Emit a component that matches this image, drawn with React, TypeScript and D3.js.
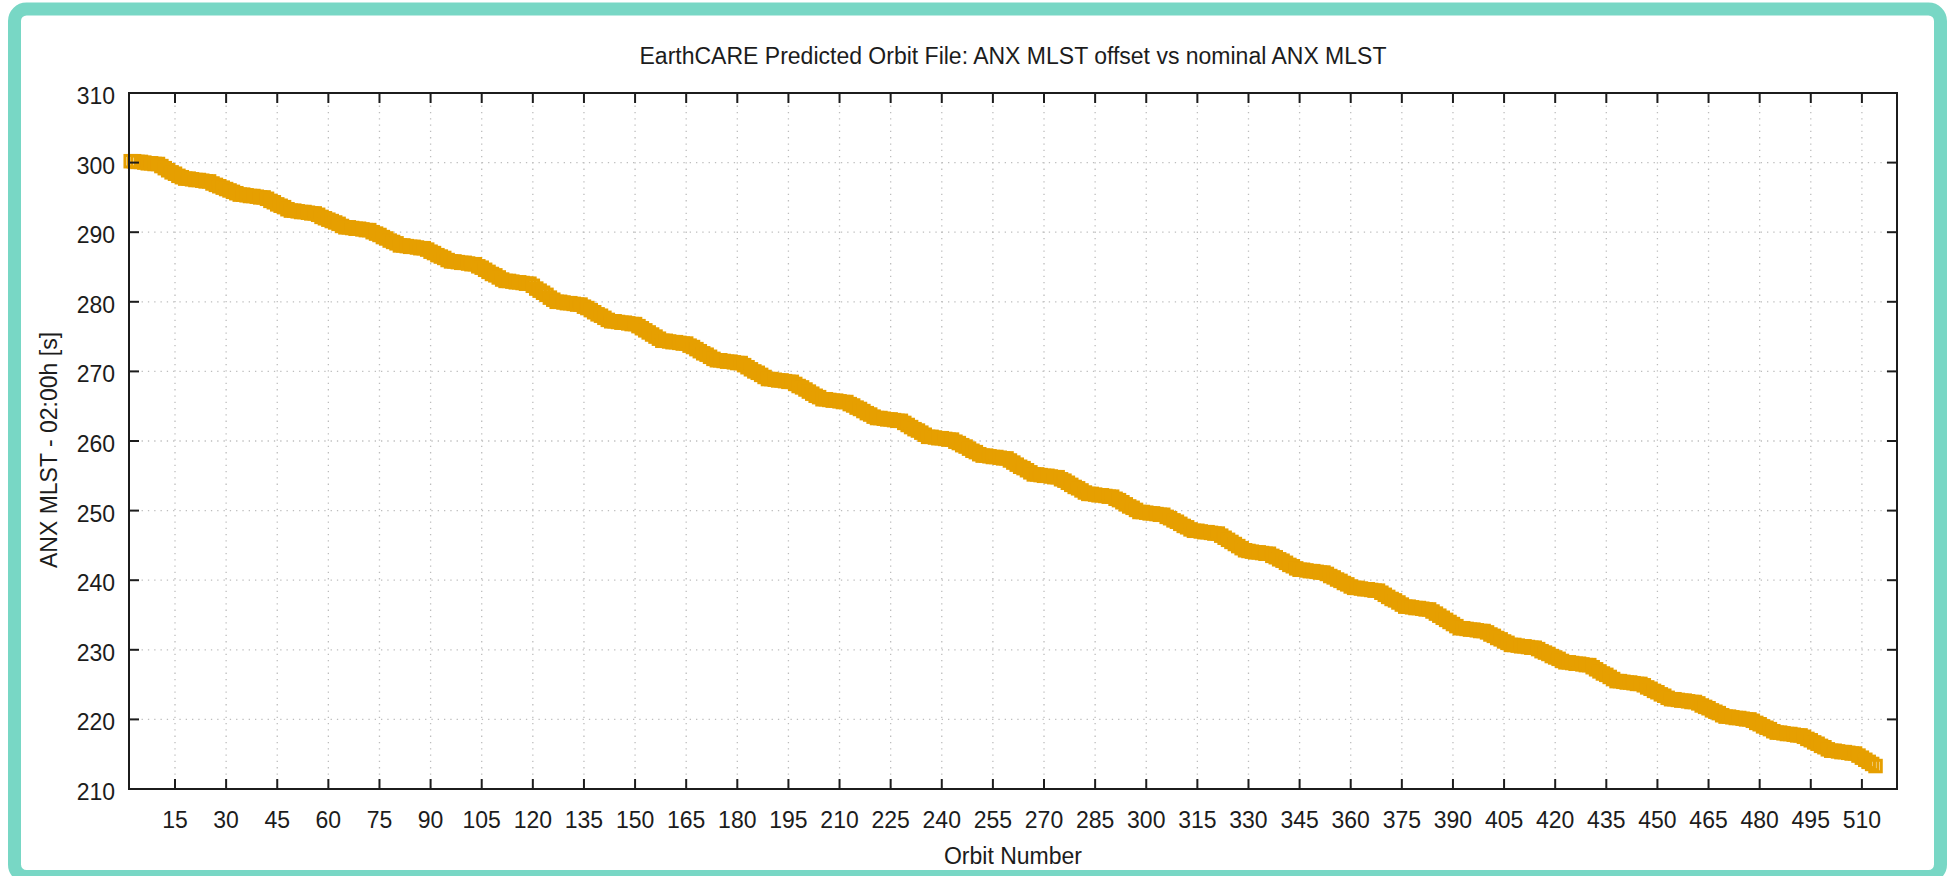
import React from 'react';
import * as d3 from 'd3';

// ANX MLST offset (s) per orbit, starting at orbit 2, one row per ~daily step
const firstOrbit = 2;
const mlstOffset = [
  300.2, 300.2, 300.1, 300.1, 300.0, 299.9, 299.9, 299.8, 299.8, 299.5, 299.2, 298.9, 298.6, 298.4, 298.1, 297.9,
  297.7, 297.7, 297.6, 297.5, 297.5, 297.4, 297.3, 297.3, 297.0, 296.8, 296.6, 296.4, 296.2, 296.0, 295.8, 295.6,
  295.4, 295.4, 295.3, 295.2, 295.2, 295.1, 295.0, 295.0, 294.8, 294.5, 294.3, 294.0, 293.8, 293.6, 293.3,
  293.1, 293.1, 293.0, 292.9, 292.9, 292.8, 292.7, 292.7, 292.5, 292.2, 292.0, 291.8, 291.6, 291.4, 291.2, 290.9,
  290.7, 290.7, 290.6, 290.5, 290.5, 290.4, 290.3, 290.3, 290.0, 289.8, 289.6, 289.3, 289.1, 288.8, 288.6, 288.4,
  288.1, 288.1, 288.0, 287.9, 287.9, 287.8, 287.7, 287.7, 287.5, 287.2, 287.0, 286.7, 286.5, 286.3, 286.0,
  285.8, 285.8, 285.7, 285.6, 285.6, 285.5, 285.4, 285.4, 285.1, 284.9, 284.6, 284.3, 284.0, 283.8, 283.5, 283.2,
  283.0, 283.0, 282.9, 282.8, 282.8, 282.7, 282.6, 282.6, 282.3, 281.9, 281.6, 281.3, 281.0, 280.6, 280.3,
  280.0, 280.0, 279.9, 279.8, 279.8, 279.7, 279.6, 279.6, 279.3, 279.1, 278.8, 278.5, 278.2, 278.0, 277.7, 277.4,
  277.2, 277.2, 277.1, 277.0, 277.0, 276.9, 276.8, 276.8, 276.5, 276.2, 275.9, 275.6, 275.3, 275.0, 274.7,
  274.4, 274.4, 274.3, 274.2, 274.2, 274.1, 274.0, 274.0, 273.7, 273.5, 273.2, 272.9, 272.6, 272.4, 272.1, 271.8,
  271.6, 271.6, 271.5, 271.4, 271.4, 271.3, 271.2, 271.2, 270.9, 270.6, 270.3, 270.0, 269.8, 269.5, 269.2,
  268.9, 268.9, 268.8, 268.7, 268.7, 268.6, 268.5, 268.5, 268.2, 267.9, 267.7, 267.4, 267.1, 266.8, 266.5, 266.3,
  266.0, 266.0, 265.9, 265.8, 265.8, 265.7, 265.6, 265.6, 265.3, 265.1, 264.8, 264.6, 264.3, 264.0, 263.8, 263.5,
  263.3, 263.3, 263.2, 263.1, 263.1, 263.0, 262.9, 262.9, 262.6, 262.3, 262.0, 261.7, 261.5, 261.2, 260.9,
  260.6, 260.6, 260.5, 260.4, 260.4, 260.3, 260.2, 260.2, 259.9, 259.7, 259.4, 259.2, 258.9, 258.6, 258.4, 258.1,
  257.9, 257.9, 257.8, 257.7, 257.7, 257.6, 257.5, 257.5, 257.2, 256.9, 256.6, 256.3, 256.1, 255.8, 255.5,
  255.2, 255.2, 255.1, 255.0, 255.0, 254.9, 254.8, 254.8, 254.5, 254.3, 254.0, 253.7, 253.4, 253.2, 252.9, 252.6,
  252.4, 252.4, 252.3, 252.2, 252.2, 252.1, 252.0, 252.0, 251.7, 251.5, 251.2, 250.9, 250.6, 250.4, 250.1,
  249.8, 249.8, 249.7, 249.6, 249.6, 249.5, 249.4, 249.4, 249.1, 248.9, 248.6, 248.4, 248.1, 247.8, 247.6, 247.3,
  247.1, 247.1, 247.0, 246.9, 246.9, 246.8, 246.7, 246.7, 246.4, 246.1, 245.8, 245.5, 245.2, 244.9, 244.6,
  244.3, 244.2, 244.1, 244.0, 244.0, 243.9, 243.8, 243.8, 243.5, 243.3, 243.0, 242.8, 242.5, 242.2, 242.0, 241.7,
  241.5, 241.5, 241.4, 241.3, 241.3, 241.2, 241.1, 241.1, 240.9, 240.6, 240.4, 240.1, 239.9, 239.6, 239.4, 239.1,
  238.9, 238.9, 238.8, 238.7, 238.7, 238.6, 238.5, 238.5, 238.2, 237.9, 237.6, 237.3, 237.1, 236.8, 236.5,
  236.2, 236.2, 236.1, 236.0, 236.0, 235.9, 235.8, 235.8, 235.5, 235.2, 234.9, 234.6, 234.3, 234.0, 233.7, 233.4,
  233.1, 233.1, 233.0, 232.9, 232.9, 232.8, 232.7, 232.7, 232.5, 232.2, 232.0, 231.7, 231.5, 231.2, 231.0,
  230.7, 230.7, 230.6, 230.5, 230.5, 230.4, 230.3, 230.3, 230.1, 229.8, 229.6, 229.4, 229.1, 228.9, 228.7, 228.4,
  228.2, 228.2, 228.1, 228.0, 228.0, 227.9, 227.8, 227.8, 227.5, 227.2, 226.9, 226.6, 226.4, 226.1, 225.8,
  225.5, 225.5, 225.4, 225.3, 225.3, 225.2, 225.1, 225.1, 224.9, 224.6, 224.4, 224.1, 223.9, 223.6, 223.4, 223.1,
  222.9, 222.9, 222.8, 222.7, 222.7, 222.6, 222.5, 222.5, 222.3, 222.0, 221.8, 221.6, 221.3, 221.1, 220.9, 220.6,
  220.4, 220.4, 220.3, 220.2, 220.2, 220.1, 220.0, 220.0, 219.8, 219.5, 219.3, 219.0, 218.8, 218.6, 218.3,
  218.1, 218.1, 218.0, 217.9, 217.9, 217.8, 217.7, 217.7, 217.5, 217.2, 217.0, 216.7, 216.5, 216.2, 216.0, 215.7,
  215.5, 215.5, 215.4, 215.3, 215.3, 215.2, 215.1, 215.1, 214.8, 214.5, 214.2, 213.9, 213.6, 213.3,
];

const xTicks = d3.range(15, 511, 15);
const yTicks = d3.range(210, 311, 10);

const titleText = 'EarthCARE Predicted Orbit File: ANX MLST offset vs nominal ANX MLST';
const xLabel = 'Orbit Number';
const yLabel = 'ANX MLST - 02:00h [s]';

const W = 1949;
const H = 876;
const left = 129;
const right = 1897;
const top = 93;
const bottom = 789;
const font = '"Liberation Sans", Arial, Helvetica, sans-serif';
const ink = '#1c1c1c';
const orange = '#e69f00';

const App = () => {
  const x = d3.scaleLinear().domain([1.5, 520.3]).range([left, right]);
  const y = d3.scaleLinear().domain([210, 310]).range([bottom, top]);
  const points = mlstOffset.map((v, i) => ({ orbit: firstOrbit + i, v }));
  const tickLen = 10;
  const ms = 11.5; // marker side (stroke centre)

  return (
    <svg width={W} height={H} style={{ position: 'absolute', left: 0, top: 0 }}>
      <rect x={14.5} y={9} width={1926} height={867.5} rx={12} fill="#fff" stroke="#78d7c5" strokeWidth={13} />

      {/* grid */}
      <g stroke="#bdbdbd" strokeWidth={1.3} strokeDasharray="1.3,5">
        {xTicks.map((t) => (
          <line key={'gx' + t} x1={x(t)} x2={x(t)} y1={top} y2={bottom} />
        ))}
        {yTicks.map((t) => (
          <line key={'gy' + t} x1={left} x2={right} y1={y(t)} y2={y(t)} />
        ))}
      </g>

      {/* data markers */}
      <g fill="none" stroke={orange} strokeWidth={3}>
        {points.map((d) => (
          <rect key={d.orbit} x={x(d.orbit) - ms / 2} y={y(d.v) - ms / 2} width={ms} height={ms} />
        ))}
      </g>

      {/* axes box and ticks */}
      <g stroke={ink} strokeWidth={2}>
        <rect x={left} y={top} width={right - left} height={bottom - top} fill="none" />
        {xTicks.map((t) => (
          <g key={'tx' + t}>
            <line x1={x(t)} x2={x(t)} y1={bottom} y2={bottom - tickLen} />
            <line x1={x(t)} x2={x(t)} y1={top} y2={top + tickLen} />
          </g>
        ))}
        {yTicks.map((t) => (
          <g key={'ty' + t}>
            <line x1={left} x2={left + tickLen} y1={y(t)} y2={y(t)} />
            <line x1={right} x2={right - tickLen} y1={y(t)} y2={y(t)} />
          </g>
        ))}
      </g>

      <g fontFamily={font} fontSize={23} fill={ink}>
        {xTicks.map((t) => (
          <text key={'lx' + t} x={x(t)} y={828} textAnchor="middle">
            {t}
          </text>
        ))}
        {yTicks.map((t) => (
          <text key={'ly' + t} x={115} y={y(t) + 11} textAnchor="end">
            {t}
          </text>
        ))}
        <text x={(left + right) / 2} y={64} textAnchor="middle">
          {titleText}
        </text>
        <text x={(left + right) / 2} y={864} textAnchor="middle">
          {xLabel}
        </text>
        <text transform={`translate(57, 450) rotate(-90)`} textAnchor="middle">
          {yLabel}
        </text>
      </g>
    </svg>
  );
};

export default App;
